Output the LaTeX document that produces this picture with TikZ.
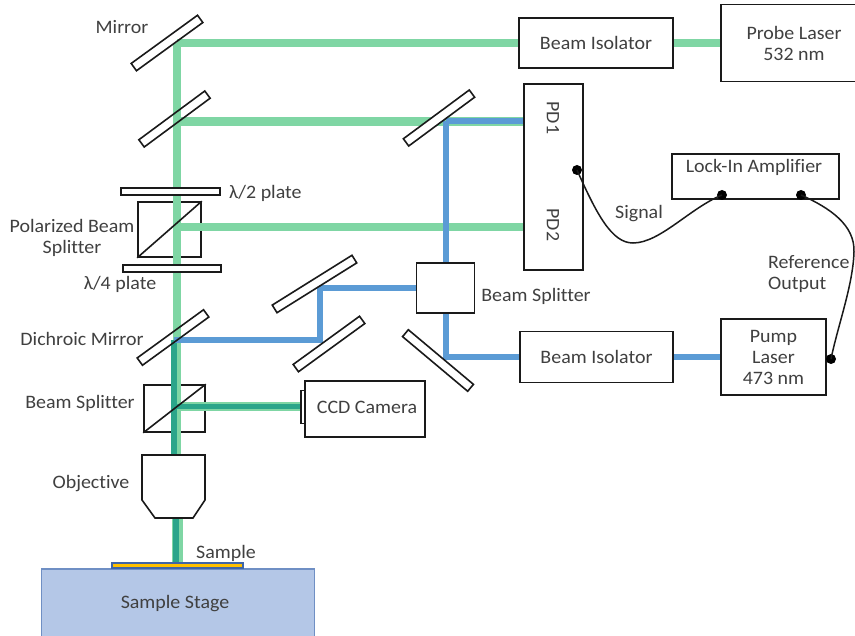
\documentclass[tikz,border=0pt]{standalone}
\usepackage{fontspec}
\setmainfont[FakeStretch=1.05,Ligatures=NoCommon]{Carlito}
\definecolor{lgreen}{HTML}{7FD6A4}
\definecolor{dgreen}{HTML}{2BA58A}
\definecolor{lblue}{HTML}{5B9BD5}
\definecolor{txt}{HTML}{404040}
\definecolor{stagefill}{HTML}{B4C7E7}
\definecolor{stageline}{HTML}{6F8FC4}
\definecolor{samplefill}{HTML}{FFC000}
\definecolor{sampleline}{HTML}{3F66A8}
\definecolor{ln}{HTML}{1A1A1A}
\tikzset{
  every node/.style={font=\fontsize{19}{21}\selectfont, text=txt, inner sep=0pt},
  box/.style={draw=ln, line width=1.6pt, fill=white, minimum width=#1},
  mirrorbox/.style={draw=ln, line width=1.6pt, minimum width=82pt, minimum height=9pt},
  filledmirror/.style={mirrorbox, fill=white},
  greenbeam/.style={draw=lgreen, line width=#1},
  greenbeam/.default=7.5pt,
  darkbeam/.style={draw=dgreen, line width=#1},
  darkbeam/.default=5.5pt,
  bluebeam/.style={draw=lblue, line width=#1},
  bluebeam/.default=5.5pt,
  cable/.style={draw=ln, line width=1.5pt},
  jack/.style={circle, fill=black, minimum size=10pt},
  lbl/.style={align=center},
}
\begin{document}
\begin{tikzpicture}[x=1pt,y=-1pt]
\clip (0,0) rectangle (855,636);
\fill[white] (0,0) rectangle (855,636);
% reflection points
\coordinate (a1) at (177,43);
\coordinate (a2) at (177,122);
\coordinate (a3) at (177,227);
\coordinate (a4) at (174,340);
\coordinate (a5) at (176,407);
\coordinate (b1) at (445.5,121);
\coordinate (b2) at (320,288);
\coordinate (b3) at (320,340);
\coordinate (g1) at (177,455);
\coordinate (d1) at (174,455);
\coordinate (g2t) at (177.5,518);
\coordinate (g2b) at (177.5,564);
\coordinate (d2t) at (176,518);
\coordinate (d2b) at (176,564);
% components whose positions the beams use
\node[box=154pt, minimum height=50pt] (iso1) at (596,43) {Beam Isolator};
\node[box=146pt, minimum height=77pt, lbl] (probe) at (794,43) {Probe Laser\\532 nm};
\node[box=153pt, minimum height=51pt] (iso2) at (596.5,357) {Beam Isolator};
\node[box=105pt, minimum height=76pt, lbl] (pump) at (773.5,357) {Pump\\Laser\\473 nm};
\node[box=59pt, minimum height=186pt] (pd) at (553.5,177) {};
\node[box=58pt, minimum height=50pt] (bsr) at (445.5,288) {};
\node[box=120pt, minimum height=56pt] (ccd) at (365,409) {};
\node[draw=ln, line width=1.5pt, fill=white, minimum width=4pt, minimum height=33pt] (tab) at (303,407) {};
\node[draw=ln, line width=1.6pt, minimum width=63pt, minimum height=55pt] (pbs) at (169.5,229.5) {};
\node[draw=ln, line width=1.6pt, minimum width=61pt, minimum height=47pt] (bs2) at (174.5,408.5) {};
\coordinate (pdg1) at (pd.west |- a2);
\coordinate (pdb1) at (pd.west |- b1);
\coordinate (pdg2) at (pd.west |- a3);
% beams
\draw[greenbeam] (a1) -- (iso1.west);
\draw[greenbeam] (iso1.east) -- (probe.west);
\draw[greenbeam=9pt] (a2) -- (pdg1);
\draw[greenbeam] (a3) -- (pdg2);
\draw[greenbeam=8pt] (a1) -- (g1);
\draw[greenbeam=9pt] (a5) -- (tab.west);
\draw[darkbeam=5pt] (a5) -- (tab.west);
\draw[darkbeam] (a4) -- (d1);
\draw[greenbeam=11pt] (g2t) -- (g2b);
\draw[darkbeam=6pt] (d2t) -- (d2b);
\draw[bluebeam] (b1) -- (pdb1);
\draw[bluebeam=6pt] (b1) -- (bsr.north);
\draw[bluebeam, line join=miter] (bsr.west) -- (b2) -- (b3) -- (a4);
\draw[bluebeam=6pt] (bsr.south) |- (iso2.west);
\draw[bluebeam=6pt] (iso2.east) -- (pump.west);
% redraw filled bodies over the beams
\node[box=154pt, minimum height=50pt] at (iso1) {Beam Isolator};
\node[box=153pt, minimum height=51pt] at (iso2) {Beam Isolator};
\node[box=146pt, minimum height=77pt, lbl] at (probe) {Probe Laser\\532 nm};
\node[box=105pt, minimum height=76pt, lbl] at (pump) {Pump\\Laser\\473 nm};
\node[box=58pt, minimum height=50pt] at (bsr) {};
\node[box=120pt, minimum height=56pt] at (ccd) {};
\node[draw=ln, line width=1.5pt, fill=white, minimum width=4pt, minimum height=33pt] at (tab) {};
\node[box=59pt, minimum height=186pt] at (pd) {};
% mirrors
\node[mirrorbox, rotate=36] (m1) at (167,43) {};
\node[mirrorbox, rotate=36.5] (m2) at (174.5,119) {};
\node[filledmirror, rotate=36.5] (m3) at (439,118) {};
\node[mirrorbox, rotate=36] (dm) at (173,337.5) {};
\node[filledmirror, rotate=32, minimum width=94pt] (m4) at (314.5,284) {};
\node[filledmirror, rotate=36] (m5) at (329,344) {};
\node[filledmirror, rotate=-40, minimum width=85pt] (m6) at (438,360.5) {};
% plates
\node[box=99pt, minimum height=7pt] (hw) at (170.5,191.5) {};
\node[box=98pt, minimum height=7pt] (qw) at (172,268.5) {};
% splitter diagonals
\draw[line width=1.6pt, draw=ln] (pbs.south west) -- (pbs.north east);
\draw[line width=1.6pt, draw=ln] (bs2.south west) -- (bs2.north east);
% objective, sample, stage
\draw[line width=1.6pt, draw=ln, fill=white] (142,455) -- (205,455) -- (205,500) -- (193,518) -- (155,518) -- (142,500) -- cycle;
\node[draw=stageline, fill=stagefill, line width=1.2pt, minimum width=273pt, minimum height=72pt] (stage) at (178,605) {};
\node at (175,603.5) {Sample Stage};
\node[draw=sampleline, fill=samplefill, line width=1.2pt, minimum width=131pt, minimum height=5pt] (smp) at (177.5,565.5) {};
% detectors and electronics
\node[rotate=-90] (pd1) at (553,118) {PD1};
\node[rotate=-90] (pd2) at (553,225) {PD2};
\node[box=167pt, minimum height=45pt] (lia) at (755.5,176.5) {};
\node at (754,167.5) {Lock-In Amplifier};
\node[jack] (j1) at (577,170) {};
\node[jack] (j2) at (722,195) {};
\node[jack] (j3) at (801,195) {};
\node[jack] (j4) at (831,359) {};
\draw[cable] (j1.center) .. controls (597,215) and (612,243) .. (633,243) .. controls (660,243) and (690,208) .. (j2.center);
\draw[cable] (j3.center) .. controls (830,208) and (855,225) .. (854,252) .. controls (853,285) and (838,325) .. (j4.center);
% labels
\node (l1) at (122,27) {Mirror};
\node[anchor=west] (l2) at (229,193) {λ/2 plate};
\node[lbl] (l3) at (72,237.5) {Polarized Beam\\Splitter};
\node (l4) at (120,284.5) {λ/4 plate};
\node (l5) at (82,339) {Dichroic Mirror};
\node (l6) at (80,403) {Beam Splitter};
\node (l7) at (91,484) {Objective};
\node (l8) at (226,553) {Sample};
\node (l9) at (367,407) {CCD Camera};
\node (l10) at (536,296) {Beam Splitter};
\node (l11) at (639,213.5) {Signal};
\node[align=left, anchor=west] (l12) at (768,274) {Reference\\Output};
\end{tikzpicture}
\end{document}
